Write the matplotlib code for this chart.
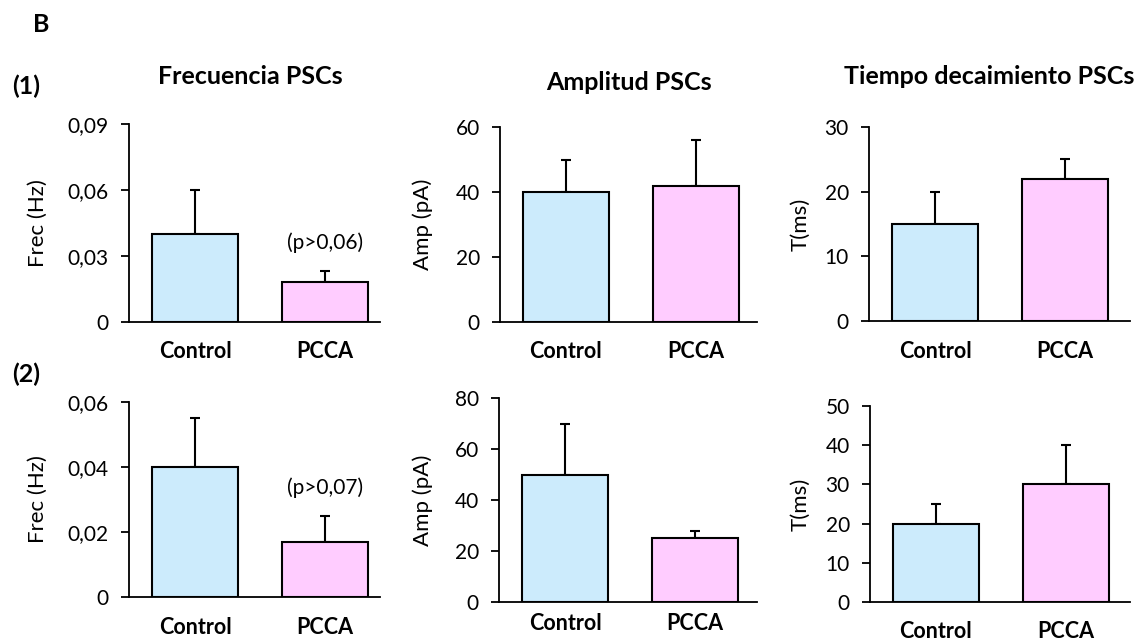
import matplotlib
matplotlib.use("Agg")
import matplotlib.pyplot as plt

W, H = 1143, 643
DPI = 100

groups = ["Control", "PCCA"]
colors = ["#CCEBFC", "#FFCCFF"]

# Row (1)
freq1_mean = [0.04, 0.018]
freq1_err = [0.02, 0.005]
amp1_mean = [40, 42]
amp1_err = [10, 14]
tau1_mean = [15, 22]
tau1_err = [5, 3]

# Row (2)
freq2_mean = [0.04, 0.017]
freq2_err = [0.015, 0.008]
amp2_mean = [50, 25]
amp2_err = [20, 3]
tau2_mean = [20, 30]
tau2_err = [5, 10]

freq1_ticks = [0, 0.03, 0.06, 0.09]
freq1_labels = ["0", "0,03", "0,06", "0,09"]
amp1_ticks = [0, 20, 40, 60]
tau1_ticks = [0, 10, 20, 30]
freq2_ticks = [0, 0.02, 0.04, 0.06]
freq2_labels = ["0", "0,02", "0,04", "0,06"]
amp2_ticks = [0, 20, 40, 60, 80]
tau2_ticks = [0, 10, 20, 30, 40, 50]

titles = ["Frecuencia PSCs", "Amplitud PSCs", "Tiempo decaimiento PSCs"]
ylabels = ["Frec (Hz)", "Amp (pA)", "T(ms)"]
pvals = ["(p>0,06)", "(p>0,07)"]

plt.rcParams["font.family"] = ["Lato", "DejaVu Sans"]
FS_TICK = 15
FS_YLAB = 16
FS_NOTE = 15
FS_GROUP = 15.5
FS_TITLE = 18
FS_TAG = 18

fig = plt.figure(figsize=(W / DPI, H / DPI), dpi=DPI)


def px_axes(x0, x1, ytop, ybot):
    return fig.add_axes([x0 / W, 1 - ybot / H, (x1 - x0) / W, (ybot - ytop) / H])


def panel(rect, means, errs, ticks, ticklabels, ylabel, ylab_x, xlab_y, pval=None, pval_y=None):
    x0, x1, ytop, ybot = rect
    ax = px_axes(x0, x1, ytop, ybot)
    gap = 130.0
    left = -66.0 / gap
    right = 1 + (x1 - x0 - 66.0 - gap) / gap
    ax.bar([0, 1], means, width=0.665, color=colors, edgecolor="black",
           linewidth=1.5, zorder=3)
    ax.errorbar([0, 1], means, yerr=[[0, 0], errs], fmt="none", ecolor="black",
                elinewidth=1.5, capsize=3.6, capthick=1.5, zorder=2)
    ax.set_xlim(left, right)
    ax.set_ylim(ticks[0], ticks[-1])
    ax.set_yticks(ticks)
    ax.set_yticklabels(ticklabels if ticklabels else [str(t) for t in ticks],
                       fontsize=FS_TICK)
    ax.set_xticks([])
    for s in ["top", "right"]:
        ax.spines[s].set_visible(False)
    for s in ["left", "bottom"]:
        ax.spines[s].set_linewidth(1.3)
    ax.tick_params(axis="y", length=5.5, width=1.3, pad=9)
    # y label
    fig.text(ylab_x / W, 1 - ((ytop + ybot) / 2) / H, ylabel, rotation=90,
             ha="center", va="center", fontsize=FS_YLAB)
    # group labels
    for i, g in enumerate(groups):
        xd = ax.transData.transform((i, 0))[0]
        fig.text(xd / W, 1 - xlab_y / H, g, ha="center", va="center",
                 fontsize=FS_GROUP, fontweight="bold")
    if pval:
        xd = ax.transData.transform((1, 0))[0]
        fig.text(xd / W, 1 - pval_y / H, pval, ha="center", va="center",
                 fontsize=FS_NOTE)
    return ax


panel((129, 380, 124, 322), freq1_mean, freq1_err, freq1_ticks, freq1_labels,
      ylabels[0], 38, 352, pvals[0], 243)
panel((500, 757, 127, 322), amp1_mean, amp1_err, amp1_ticks, None,
      ylabels[1], 423, 352)
panel((869, 1130, 127, 321), tau1_mean, tau1_err, tau1_ticks, None,
      ylabels[2], 800, 352)

panel((129, 380, 402, 597), freq2_mean, freq2_err, freq2_ticks, freq2_labels,
      ylabels[0], 38, 627, pvals[1], 488)
panel((499, 757, 398, 602), amp2_mean, amp2_err, amp2_ticks, None,
      ylabels[1], 423, 623)
panel((870, 1130, 406, 602), tau2_mean, tau2_err, tau2_ticks, None,
      ylabels[2], 800, 632)

# Column titles
title_pos = [(250, 77), (629, 82), (989, 77)]
for t, (x, y) in zip(titles, title_pos):
    fig.text(x / W, 1 - y / H, t, ha="center", va="center", fontsize=FS_TITLE,
             fontweight="bold")

fig.text(41 / W, 1 - 25 / H, "B", ha="center", va="center", fontsize=FS_TAG,
         fontweight="bold")
fig.text(26 / W, 1 - 86 / H, "(1)", ha="center", va="center", fontsize=FS_TAG,
         fontweight="bold")
fig.text(26 / W, 1 - 374 / H, "(2)", ha="center", va="center", fontsize=FS_TAG,
         fontweight="bold")

fig.savefig("out.png", dpi=DPI, facecolor="white")
